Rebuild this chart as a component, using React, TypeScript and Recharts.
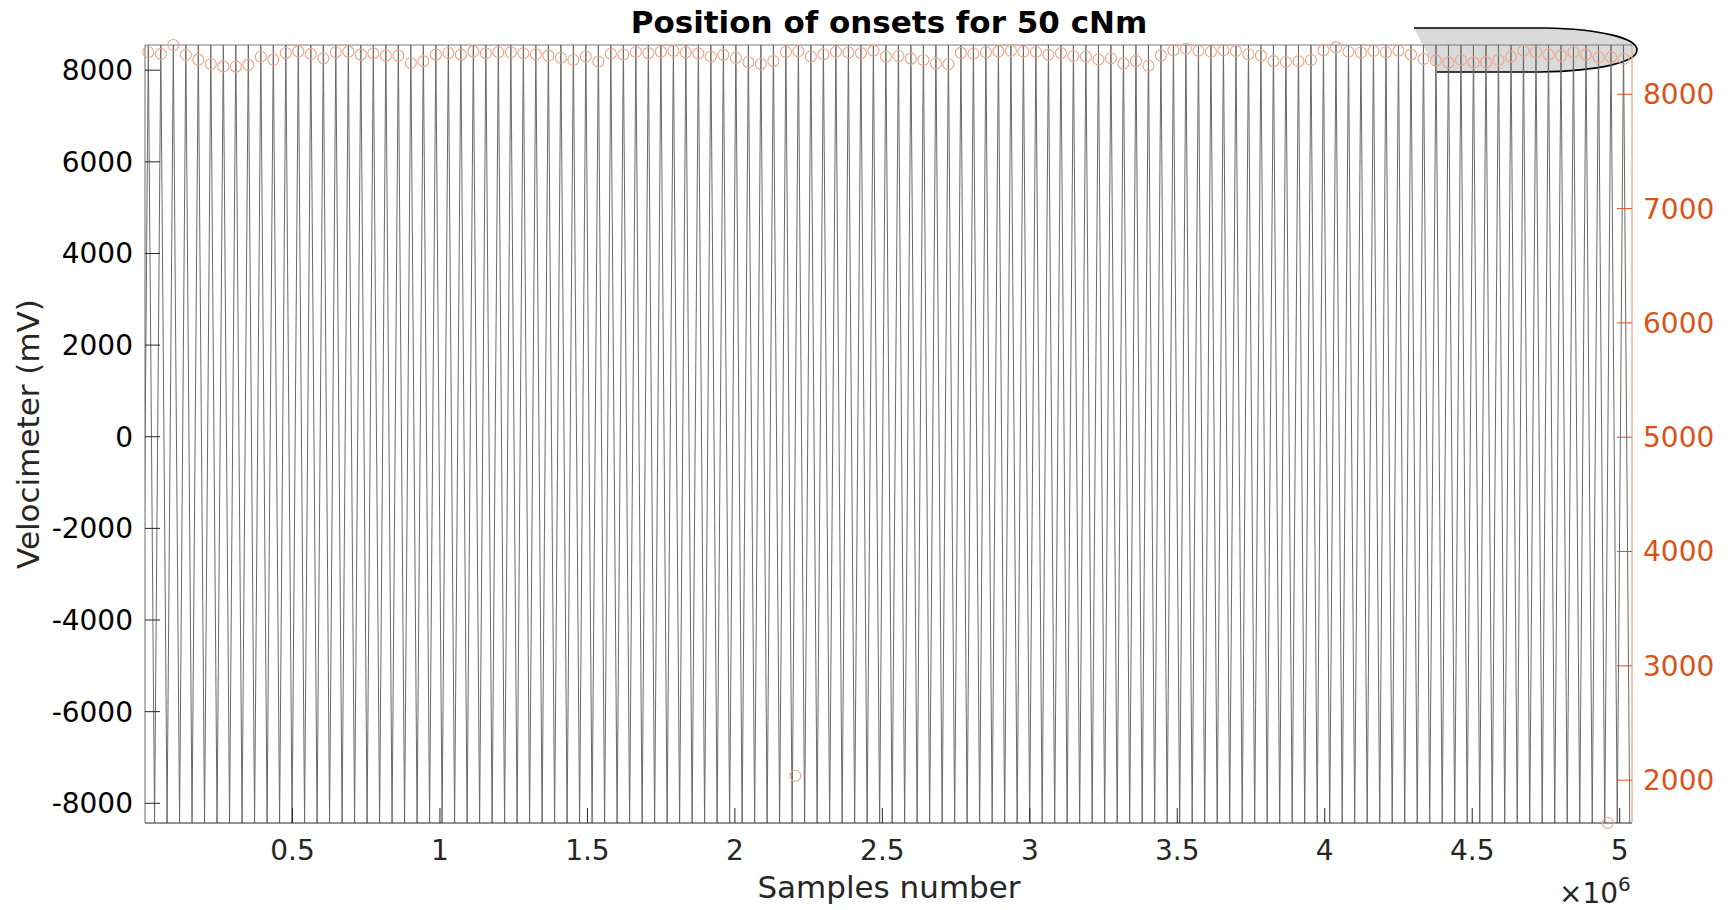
import React from 'react';
import { ComposedChart, Line, Scatter, XAxis, YAxis, ReferenceLine, Customized } from 'recharts';

// sample index of every detected onset (one per revolution)
const onsetSamples = [
  11200, 53600, 96000, 138400, 180700, 223100, 265500, 307900, 350300, 392700,
  435100, 477500, 519800, 562200, 604600, 647000, 689400, 731800, 774200, 816600,
  858900, 901300, 943700, 986100, 1028500, 1070900, 1113300, 1155700, 1198000, 1240400,
  1282800, 1325200, 1367600, 1410000, 1452400, 1494700, 1537100, 1579500, 1621900, 1664300,
  1706700, 1749100, 1791500, 1833800, 1876200, 1918600, 1961000, 2003400, 2045800, 2088200,
  2130600, 2172900, 2215300, 2257700, 2300100, 2342500, 2384900, 2427300, 2469600, 2512000,
  2554400, 2596800, 2639200, 2681600, 2724000, 2766400, 2808700, 2851100, 2893500, 2935900,
  2978300, 3020700, 3063100, 3105500, 3147800, 3190200, 3232600, 3275000, 3317400, 3359800,
  3402200, 3444500, 3486900, 3529300, 3571700, 3614100, 3656500, 3698900, 3741300, 3783600,
  3826000, 3868400, 3910800, 3953200, 3995600, 4038000, 4080400, 4122700, 4165100, 4207500,
  4249900, 4292300, 4334700, 4377100, 4419400, 4461800, 4504200, 4546600, 4589000, 4631400,
  4673800, 4716200, 4758500, 4800900, 4843300, 4885700, 4928100, 4970500, 5012900,
];

// onset level on the right axis
const onsetValues = [
  8367, 8353, 8431, 8344, 8303, 8265, 8244, 8242, 8257, 8329,
  8303, 8361, 8375, 8353, 8314, 8367, 8373, 8347, 8358, 8338,
  8338, 8274, 8288, 8347, 8361, 8347, 8375, 8358, 8367, 8367,
  8358, 8350, 8338, 8320, 8300, 8330, 8285, 8355, 8348, 8370,
  8360, 8372, 8378, 8365, 8358, 8330, 8345, 8318, 8280, 8265,
  8290, 8370, 8376, 8330, 8350, 8372, 8365, 8360, 8380, 8328,
  8335, 8312, 8300, 8270, 8262, 8362, 8355, 8368, 8375, 8380,
  8372, 8370, 8345, 8360, 8335, 8328, 8305, 8315, 8270, 8290,
  8250, 8340, 8385, 8398, 8380, 8372, 8385, 8378, 8350, 8340,
  8290, 8282, 8288, 8300, 8385, 8410, 8372, 8365, 8378, 8367,
  8381, 8347, 8309, 8294, 8279, 8300, 8279, 8279, 8300, 8329,
  8381, 8367, 8347, 8338, 8367, 8347, 8323, 8323, 8309,
];

// spurious detections far below the others
const strayOnsetSamples = [2205100, 4960000];
const strayOnsetValues = [2038, 1625];

// velocimeter minima between onsets
const troughSamples = [
  -10000, 32400, 74800, 117200, 159500, 201900, 244300, 286700, 329100, 371500,
  413900, 456300, 498600, 541000, 583400, 625800, 668200, 710600, 753000, 795400,
  837700, 880100, 922500, 964900, 1007300, 1049700, 1092100, 1134500, 1176800, 1219200,
  1261600, 1304000, 1346400, 1388800, 1431200, 1473500, 1515900, 1558300, 1600700, 1643100,
  1685500, 1727900, 1770300, 1812600, 1855000, 1897400, 1939800, 1982200, 2024600, 2067000,
  2109400, 2151700, 2194100, 2236500, 2278900, 2321300, 2363700, 2406100, 2448400, 2490800,
  2533200, 2575600, 2618000, 2660400, 2702800, 2745200, 2787500, 2829900, 2872300, 2914700,
  2957100, 2999500, 3041900, 3084300, 3126600, 3169000, 3211400, 3253800, 3296200, 3338600,
  3381000, 3423300, 3465700, 3508100, 3550500, 3592900, 3635300, 3677700, 3720100, 3762400,
  3804800, 3847200, 3889600, 3932000, 3974400, 4016800, 4059200, 4101500, 4143900, 4186300,
  4228700, 4271100, 4313500, 4355900, 4398200, 4440600, 4483000, 4525400, 4567800, 4610200,
  4652600, 4695000, 4737300, 4779700, 4822100, 4864500, 4906900, 4949300, 4991700, 5034100,
];

const SIGNAL_HIGH = 8550;
const SIGNAL_LOW = -8430;

const xRange = [0, 5041700];
const xTicks = [500000, 1000000, 1500000, 2000000, 2500000, 3000000, 3500000, 4000000, 4500000, 5000000];
const leftTicks = [-8000, -6000, -4000, -2000, 0, 2000, 4000, 6000, 8000];
const rightTicks = [2000, 3000, 4000, 5000, 6000, 7000, 8000];

const waveform = [
  ...onsetSamples.map((x) => ({ x, y: SIGNAL_HIGH })),
  ...troughSamples.map((x) => ({ x, y: SIGNAL_LOW })),
].sort((a, b) => a.x - b.x);

const onsets = [
  ...onsetSamples.map((x, i) => ({ x, y: onsetValues[i] })),
  ...strayOnsetSamples.map((x, i) => ({ x, y: strayOnsetValues[i] })),
].sort((a, b) => a.x - b.x);

const FONT = 'DejaVu Sans, sans-serif';
const INK = '#262626';
const ORANGE = '#D95319';

const OpenCircle = (props: any) => {
  const { cx, cy } = props;
  if (cx == null || cy == null) return null;
  return <circle cx={cx} cy={cy} r={5.5} fill="none" stroke="#EEA484" strokeWidth={1.1} />;
};

const Decorations = () => (
  <g fontFamily={FONT}>
    <text x={889} y={33} textAnchor="middle" fontSize={31} fontWeight="bold" fill="#000">
      Position of onsets for 50 cNm
    </text>
    <text x={889} y={898} textAnchor="middle" fontSize={31} fill={INK}>
      Samples number
    </text>
    <text
      x={0}
      y={0}
      transform="translate(39, 434) rotate(-90)"
      textAnchor="middle"
      fontSize={31}
      fill={INK}
    >
      Velocimeter (mV)
    </text>
    <text x={1559} y={903} fontSize={28} fill={INK}>
      ×10
      <tspan dy={-12} fontSize={20}>6</tspan>
    </text>
    {/* empty legend box */}
    <path
      d="M1414,28 L1545,28 C1600,29 1637,38 1637,50 C1637,62 1600,71 1540,72 L1437,72 Z"
      fill="#d6d6d6"
      fillOpacity={0.9}
      stroke="none"
    />
    <path
      d="M1414,28 L1545,28 C1600,29 1637,38 1637,50 C1637,62 1600,71 1540,72 L1437,72"
      fill="none"
      stroke="#000"
      strokeWidth={1.6}
    />
  </g>
);

export default function App() {
  return (
    <div style={{ position: 'absolute', left: 0, top: 0, width: 1732, height: 910, background: '#fff' }}>
      <ComposedChart width={1732} height={910} margin={{ top: 45, right: 0, bottom: 0, left: 0 }}>
        <XAxis
          xAxisId="main"
          type="number"
          dataKey="x"
          domain={xRange}
          allowDataOverflow
          ticks={xTicks}
          interval={0}
          tickFormatter={(v: number) => String(v / 1e6)}
          height={87}
          tickSize={-15}
          tickMargin={32}
          axisLine={{ stroke: INK, strokeWidth: 1 }}
          tickLine={{ stroke: INK, strokeWidth: 1 }}
          tick={{ fill: INK, fontSize: 28, fontFamily: FONT }}
        />
        <XAxis xAxisId="marks" type="number" dataKey="x" domain={xRange} hide />
        <YAxis
          yAxisId="left"
          orientation="left"
          type="number"
          domain={['dataMin', 'dataMax']}
          allowDataOverflow
          ticks={leftTicks}
          interval={0}
          width={145}
          tickSize={-15}
          tickMargin={27}
          axisLine={{ stroke: '#6a6a6a', strokeWidth: 1 }}
          tickLine={{ stroke: INK, strokeWidth: 1 }}
          tick={{ fill: '#000', fontSize: 28, fontFamily: FONT }}
        />
        <YAxis
          yAxisId="right"
          orientation="right"
          type="number"
          domain={['dataMin', 'dataMax']}
          ticks={rightTicks}
          interval={0}
          width={100}
          tickSize={-15}
          tickMargin={26}
          axisLine={{ stroke: '#EFA98B', strokeWidth: 1.3 }}
          tickLine={{ stroke: ORANGE, strokeWidth: 1 }}
          tick={{ fill: ORANGE, fontSize: 28, fontFamily: FONT }}
        />
        <ReferenceLine xAxisId="main" yAxisId="left" y={SIGNAL_HIGH} stroke="#7a7a7a" strokeWidth={1} />
        <Line
          xAxisId="main"
          yAxisId="left"
          data={waveform}
          dataKey="y"
          type="linear"
          stroke="#6a6a6a"
          strokeWidth={1}
          dot={false}
          activeDot={false}
          isAnimationActive={false}
        />
        <Scatter
          xAxisId="marks"
          yAxisId="right"
          data={onsets}
          dataKey="y"
          shape={OpenCircle}
          isAnimationActive={false}
        />
        <Customized component={Decorations} />
      </ComposedChart>
    </div>
  );
}
